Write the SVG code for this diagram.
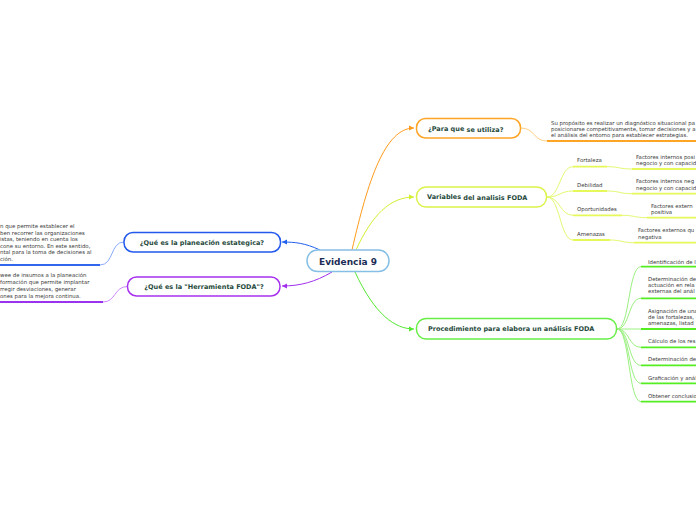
<svg xmlns="http://www.w3.org/2000/svg" width="696" height="520" viewBox="0 0 696 520">
<style>
.node{fill:#fff;stroke-width:1.5}
.nt{font-family:"DejaVu Sans",Verdana,sans-serif;font-weight:bold;font-size:6.5px;fill:#1f4a3c}
.ct{font-family:"DejaVu Sans",Verdana,sans-serif;font-weight:bold;font-size:9px;fill:#1b2c55}
.st{font-family:"DejaVu Sans",Verdana,sans-serif;font-size:5.4px;fill:#383838}
.c{fill:none;stroke-width:1}
.u{fill:none;stroke-width:1.8}
</style>
<defs>
<marker id="aO" markerWidth="6" markerHeight="6" refX="5" refY="3" orient="auto" markerUnits="userSpaceOnUse"><path d="M0,0.5 L5,3 L0,5.5 Z" fill="#ff9a1a"/></marker>
<marker id="aY" markerWidth="6" markerHeight="6" refX="5" refY="3" orient="auto" markerUnits="userSpaceOnUse"><path d="M0,0.5 L5,3 L0,5.5 Z" fill="#d4ee30"/></marker>
<marker id="aG" markerWidth="6" markerHeight="6" refX="5" refY="3" orient="auto" markerUnits="userSpaceOnUse"><path d="M0,0.5 L5,3 L0,5.5 Z" fill="#55e833"/></marker>
<marker id="aB" markerWidth="6" markerHeight="6" refX="5" refY="3" orient="auto" markerUnits="userSpaceOnUse"><path d="M0,0.5 L5,3 L0,5.5 Z" fill="#2060ee"/></marker>
<marker id="aP" markerWidth="6" markerHeight="6" refX="5" refY="3" orient="auto" markerUnits="userSpaceOnUse"><path d="M0,0.5 L5,3 L0,5.5 Z" fill="#a030ee"/></marker>
</defs>

<g id="connectors">
<path class="c" stroke="#ff9a1a" d="M352,250 C368,180 385,128 414,128" marker-end="url(#aO)"/>
<path class="c" stroke="#d4ee30" d="M356,250 C372,215 390,197 414,197" marker-end="url(#aY)"/>
<path class="c" stroke="#55e833" d="M355,272 C375,315 395,329 414,329" marker-end="url(#aG)"/>
<path class="c" stroke="#2060ee" d="M320,250 C305,243 295,242 282,242" marker-end="url(#aB)"/>
<path class="c" stroke="#a030ee" d="M332,272 C315,282 300,286 282,286" marker-end="url(#aP)"/>
<path class="c" stroke="#ffcf80" d="M521,128 C535,128 533,141 547,141"/>
<path class="c" stroke="#e4f870" d="M547,197 C560,197 560,166.7 573,166.7"/>
<path class="c" stroke="#e4f870" d="M547,197 C560,197 560,191 573,191"/>
<path class="c" stroke="#e4f870" d="M547,197 C560,197 560,215.3 573,215.3"/>
<path class="c" stroke="#e4f870" d="M547,197 C560,197 560,240 573,240"/>
<path class="c" stroke="#e4f870" d="M607,166.7 C620,166.7 619,169 632,169"/>
<path class="c" stroke="#e4f870" d="M607,191 C620,191 619,193.7 632,193.7"/>
<path class="c" stroke="#e4f870" d="M622,215.3 C635,215.3 634,217.7 647,217.7"/>
<path class="c" stroke="#e4f870" d="M610,240 C622,240 622,242.7 634,242.7"/>
<path class="c" stroke="#9af080" d="M617,329 C630,329 628,266.7 641,266.7"/>
<path class="c" stroke="#9af080" d="M617,329 C630,329 628,298.3 641,298.3"/>
<path class="c" stroke="#9af080" d="M617,329 C630,329 628,329 641,329"/>
<path class="c" stroke="#9af080" d="M617,329 C630,329 628,347.3 641,347.3"/>
<path class="c" stroke="#9af080" d="M617,329 C630,329 628,365.3 641,365.3"/>
<path class="c" stroke="#9af080" d="M617,329 C630,329 628,383.3 641,383.3"/>
<path class="c" stroke="#9af080" d="M617,329 C630,329 628,401.7 641,401.7"/>
<path class="c" stroke="#88aaff" d="M100,265 C114,265 110,242 124,242"/>
<path class="c" stroke="#cc88ff" d="M103,302 C116,302 114,286.5 127.5,286.5"/>
</g>

<g id="center">
<rect class="node" x="307" y="250" width="82" height="21.5" rx="10.5" stroke="#86bfe6"/>
<text class="ct" x="348" y="264.5" text-anchor="middle">Evidencia 9</text>
</g>

<g id="n-planeacion">
<rect class="node" x="124" y="232.5" width="156.5" height="19.5" rx="9" stroke="#2258ee"/>
<text class="nt" x="202" y="245" text-anchor="middle">¿Qué es la planeación estategica?</text>
</g>
<g id="n-planeacion-text">
<text class="st" x="0" y="228">n que permite establecer el</text>
<text class="st" x="0" y="234.5">ben recorrer las organizaciones</text>
<text class="st" x="0" y="241">istas, teniendo en cuenta los</text>
<text class="st" x="0" y="247.5">cone su entorno. En este sentido,</text>
<text class="st" x="0" y="254">ntal para la toma de decisiones al</text>
<text class="st" x="0" y="260.5">ción.</text>
<line class="u" x1="0" y1="265" x2="100" y2="265" stroke="#3366ee"/>
</g>

<g id="n-herramienta">
<rect class="node" x="127.5" y="277" width="152.5" height="19" rx="9" stroke="#a630ee"/>
<text class="nt" x="204" y="289" text-anchor="middle">¿Qué es la "Herramienta FODA"?</text>
</g>
<g id="n-herramienta-text">
<text class="st" x="0" y="276.5">wee de insumos a la planeación</text>
<text class="st" x="0" y="283.5">formación que permite implantar</text>
<text class="st" x="0" y="290.5">rregir desviaciones, generar</text>
<text class="st" x="0" y="297.5">ones para la mejora continua.</text>
<line class="u" x1="0" y1="302" x2="103" y2="302" stroke="#9933ee"/>
</g>

<g id="n-para">
<rect class="node" x="416.5" y="118.5" width="104" height="19.5" rx="9" stroke="#ffa526"/>
<text class="nt" x="428" y="130.5">¿Para que<tspan dy="1.2"> se utiliza?</tspan></text>
</g>
<g id="n-para-text">
<text class="st" x="551" y="124.5">Su propósito es realizar un diagnóstico situacional pa</text>
<text class="st" x="551" y="131">posicionarse competitivamente, tomar decisiones y a</text>
<text class="st" x="551" y="137">el análisis del entorno para establecer estrategias.</text>
<line class="u" x1="547" y1="141" x2="696" y2="141" stroke="#ffa526"/>
</g>

<g id="n-variables">
<rect class="node" x="416.5" y="187" width="130" height="20" rx="9.5" stroke="#dcf24a"/>
<text class="nt" x="427" y="198.8">Variables<tspan dy="1"> del analisis FODA</tspan></text>
</g>
<g id="n-fortaleza">
<text class="st" x="577" y="162">Fortaleza</text>
<line class="u" x1="573" y1="166.7" x2="607" y2="166.7" stroke="#e6f85a"/>
<text class="st" x="636" y="158.5">Factores internos posi</text>
<text class="st" x="636" y="164.5">negocio y con capacid</text>
<line class="u" x1="632" y1="169" x2="696" y2="169" stroke="#e6f85a"/>
</g>
<g id="n-debilidad">
<text class="st" x="577" y="187">Debilidad</text>
<line class="u" x1="573" y1="191" x2="607" y2="191" stroke="#e6f85a"/>
<text class="st" x="636" y="182.5">Factores internos neg</text>
<text class="st" x="636" y="189.5">negocio y con capacid</text>
<line class="u" x1="632" y1="193.7" x2="696" y2="193.7" stroke="#e6f85a"/>
</g>
<g id="n-oportunidades">
<text class="st" x="577" y="211">Oportunidades</text>
<line class="u" x1="573" y1="215.3" x2="622" y2="215.3" stroke="#e6f85a"/>
<text class="st" x="651" y="208">Factores extern</text>
<text class="st" x="651" y="214">positiva</text>
<line class="u" x1="647" y1="217.7" x2="696" y2="217.7" stroke="#e6f85a"/>
</g>
<g id="n-amenazas">
<text class="st" x="577" y="236">Amenazas</text>
<line class="u" x1="573" y1="240" x2="610" y2="240" stroke="#e6f85a"/>
<text class="st" x="638" y="232">Factores externos qu</text>
<text class="st" x="638" y="238.5">negativa</text>
<line class="u" x1="634" y1="242.7" x2="696" y2="242.7" stroke="#e6f85a"/>
</g>

<g id="n-procedimiento">
<rect class="node" x="416.5" y="318.5" width="200" height="20.5" rx="9.5" stroke="#66ee44"/>
<text class="nt" x="428" y="331">Procedimiento para elabora un análisis FODA</text>
</g>
<g id="n-proc-items">
<text class="st" x="648" y="263.5">Identificación de l</text>
<line class="u" x1="641" y1="266.7" x2="696" y2="266.7" stroke="#55ee22"/>
<text class="st" x="648" y="281">Determinación de</text>
<text class="st" x="648" y="287">actuación en rela</text>
<text class="st" x="648" y="293">externas del anál</text>
<line class="u" x1="641" y1="298.3" x2="696" y2="298.3" stroke="#55ee22"/>
<text class="st" x="648" y="313">Asignación de una</text>
<text class="st" x="648" y="319">de las fortalezas,</text>
<text class="st" x="648" y="324.5">amenazas, listad</text>
<line class="u" x1="641" y1="329" x2="696" y2="329" stroke="#55ee22"/>
<text class="st" x="648" y="343">Cálculo de los res</text>
<line class="u" x1="641" y1="347.3" x2="696" y2="347.3" stroke="#55ee22"/>
<text class="st" x="648" y="361">Determinación de</text>
<line class="u" x1="641" y1="365.3" x2="696" y2="365.3" stroke="#55ee22"/>
<text class="st" x="648" y="379.5">Graficación y anál</text>
<line class="u" x1="641" y1="383.3" x2="696" y2="383.3" stroke="#55ee22"/>
<text class="st" x="648" y="397.5">Obtener conclusio</text>
<line class="u" x1="641" y1="401.7" x2="696" y2="401.7" stroke="#55ee22"/>
</g>
</svg>
